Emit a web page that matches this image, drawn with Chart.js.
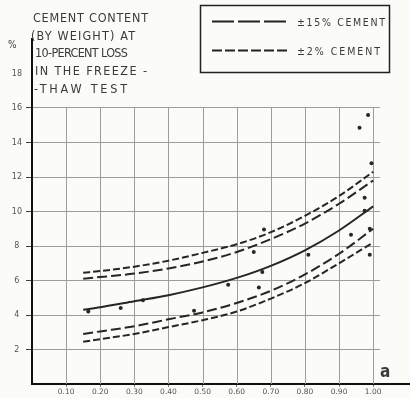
<!DOCTYPE html>
<html>
<head>
<meta charset="utf-8">
<script src="https://cdn.jsdelivr.net/npm/chart.js@4/dist/chart.umd.min.js"></script>
<style>
  body { margin: 0; background: #fbfbf8; }
  #wrap { position: relative; width: 410px; height: 398px; }
  #overlay { position: absolute; left: 0; top: 0; pointer-events: none; }
  .lbl { font-family: 'DejaVu Sans Condensed', 'DejaVu Sans', sans-serif; fill: #3a3a3a; }
</style>
</head>
<body>
<div id="wrap">
  <canvas id="chart"></canvas>
  <svg id="overlay" width="410" height="398">
    <text class="lbl" x="33" y="22" font-size="12.5" textLength="115" lengthAdjust="spacing">CEMENT CONTENT</text>
    <text class="lbl" x="31" y="40" font-size="12.5" textLength="104" lengthAdjust="spacing">(BY WEIGHT) AT</text>
    <text class="lbl" x="35" y="57" font-size="12.5" textLength="93" lengthAdjust="spacing">10-PERCENT LOSS</text>
    <text class="lbl" x="35" y="75" font-size="12.5" textLength="112" lengthAdjust="spacing">IN THE FREEZE -</text>
    <text class="lbl" x="34" y="93" font-size="12.5" textLength="93" lengthAdjust="spacing">-THAW TEST</text>
    <text class="lbl" x="8" y="48" font-size="10">%</text>
    <text class="lbl" x="380" y="377" font-size="17" font-weight="bold">a</text>

    <rect x="200.5" y="5.5" width="189" height="67" fill="none" stroke="#222" stroke-width="1.5"/>
    <line x1="212" y1="21.5" x2="287" y2="21.5" stroke="#222" stroke-width="2" stroke-dasharray="22 4"/>
    <text class="lbl" x="297" y="25.5" font-size="10.5" textLength="88" lengthAdjust="spacing">±15% CEMENT</text>
    <line x1="212" y1="50.5" x2="287" y2="50.5" stroke="#222" stroke-width="2" stroke-dasharray="10 3"/>
    <text class="lbl" x="297" y="54.5" font-size="10.5" textLength="83" lengthAdjust="spacing">±2% CEMENT</text>
  </svg>
</div>
<script>
// grid / tick values
const xTicks = [0.1, 0.2, 0.3, 0.4, 0.5, 0.6, 0.7, 0.8, 0.9, 1.0];
const xTickLabels = ['0.10', '0.20', '0.30', '0.40', '0.50', '0.60', '0.70', '0.80', '0.90', '1.00'];
const yTicks = [2, 4, 6, 8, 10, 12, 14, 16, 18];

// curves
const curveX = [0.15, 0.2, 0.3, 0.4, 0.5, 0.6, 0.7, 0.8, 0.9, 1.0];
const meanCurve = [4.3, 4.45, 4.8, 5.15, 5.6, 6.15, 6.85, 7.75, 8.9, 10.3];
const upper15 = [6.1, 6.2, 6.4, 6.7, 7.1, 7.65, 8.4, 9.3, 10.45, 11.8];
const upper2 = [6.45, 6.55, 6.8, 7.15, 7.6, 8.1, 8.8, 9.75, 10.9, 12.3];
const lower15 = [2.9, 3.05, 3.35, 3.75, 4.15, 4.7, 5.4, 6.35, 7.55, 9.0];
const lower2 = [2.45, 2.6, 2.9, 3.3, 3.7, 4.2, 4.95, 5.85, 7.0, 8.2];

// measured points
const pointX = [0.165, 0.26, 0.325, 0.475, 0.575, 0.665, 0.675, 0.65, 0.68, 0.81, 0.935, 0.975, 0.975, 0.99, 0.99, 0.995, 0.96, 0.985];
const pointY = [4.2, 4.4, 4.85, 4.25, 5.75, 5.6, 6.5, 7.65, 8.95, 7.5, 8.65, 10.05, 10.8, 9.0, 7.5, 12.8, 14.85, 15.6];

const toXY = (xs, ys) => xs.map((x, i) => ({ x: x, y: ys[i] }));
const INK = '#262626';

const curve = (label, ys, dash) => ({
    label: label,
    data: toXY(curveX, ys),
    showLine: true,
    borderColor: INK,
    borderWidth: 2,
    borderDash: dash,
    pointRadius: 0,
    cubicInterpolationMode: 'monotone'
});

const paperGrid = {
    id: 'paperGrid',
    beforeDatasetsDraw(chart) {
        const { ctx, scales: { x, y } } = chart;
        ctx.save();
        ctx.strokeStyle = '#9c9c9c';
        ctx.lineWidth = 1;
        xTicks.forEach(v => {
            const px = Math.round(x.getPixelForValue(v)) + 0.5;
            ctx.beginPath();
            ctx.moveTo(px, y.getPixelForValue(16));
            ctx.lineTo(px, y.getPixelForValue(0));
            ctx.stroke();
        });
        ctx.restore();
    },
    afterDraw(chart) {
        // the x axis runs on past the grid
        const { ctx, chartArea, scales: { y } } = chart;
        const py = y.getPixelForValue(0);
        ctx.save();
        ctx.strokeStyle = '#111';
        ctx.lineWidth = 2;
        ctx.beginPath();
        ctx.moveTo(chartArea.right - 2, py);
        ctx.lineTo(chart.width, py);
        ctx.stroke();
        ctx.restore();
    }
};

Chart.defaults.font.family = "'DejaVu Sans', sans-serif";
Chart.defaults.color = '#555';

new Chart(document.getElementById('chart'), {
    type: 'scatter',
    data: {
        datasets: [
            curve('±2% upper', upper2, [7, 3]),
            curve('±15% upper', upper15, [10, 4]),
            curve('mean', meanCurve, []),
            curve('±15% lower', lower15, [10, 4]),
            curve('±2% lower', lower2, [7, 3]),
            {
                label: 'tests',
                data: toXY(pointX, pointY),
                pointRadius: 2,
                pointBackgroundColor: INK,
                pointBorderWidth: 0
            }
        ]
    },
    options: {
        responsive: true,
        maintainAspectRatio: false,
        animation: false,
        layout: { padding: { top: 39, right: 30, left: 0, bottom: 0 } },
        plugins: {
            legend: { display: false },
            tooltip: { enabled: false }
        },
        scales: {
            x: {
                type: 'linear',
                min: 0,
                max: 1.02,
                afterBuildTicks: axis => { axis.ticks = xTicks.map(v => ({ value: v })); },
                afterFit: axis => { axis.height = 14; },
                ticks: {
                    autoSkip: false,
                    maxRotation: 0,
                    padding: 1,
                    font: { size: 7.5 },
                    callback: (v, i) => xTickLabels[i]
                },
                grid: { drawOnChartArea: false, drawTicks: true, tickLength: 3, tickColor: '#777' },
                border: { color: '#111', width: 2 }
            },
            y: {
                min: 0,
                max: 20,
                afterBuildTicks: axis => { axis.ticks = yTicks.map(v => ({ value: v })); },
                afterFit: axis => { axis.width = 32; },
                ticks: {
                    autoSkip: false,
                    padding: 4,
                    crossAlign: 'center',
                    font: { size: 8 },
                    callback: v => String(v)
                },
                grid: {
                    color: c => (c.tick && c.tick.value <= 16) ? '#9c9c9c' : 'rgba(0,0,0,0)',
                    tickColor: c => (c.tick && c.tick.value <= 16) ? '#444' : 'rgba(0,0,0,0)',
                    tickLength: 6,
                    lineWidth: 1
                },
                border: { color: '#111', width: 2 }
            }
        }
    },
    plugins: [paperGrid]
});
</script>
</body>
</html>
